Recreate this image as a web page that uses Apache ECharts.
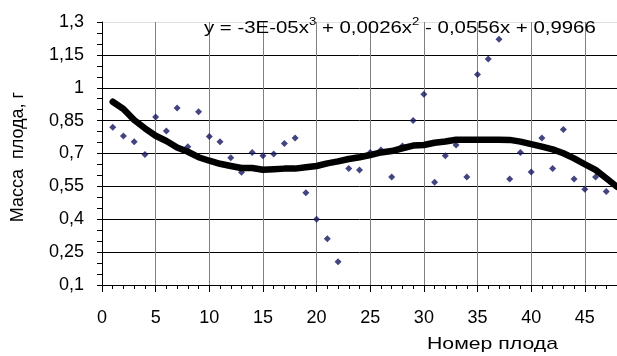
<!DOCTYPE html>
<html>
<head>
<meta charset="utf-8">
<script src="https://cdn.jsdelivr.net/npm/echarts@6/dist/echarts.min.js"></script>
<style>
  html, body { margin: 0; padding: 0; background: #fff; }
  #chart { width: 617px; height: 356px; }
</style>
</head>
<body>
<div id="chart"></div>
<script>
// fruit number -> mass (g)
var fruitNo = [1, 2, 3, 4, 5, 6, 7, 8, 9, 10, 11, 12, 13, 14, 15, 16, 17, 18, 19, 20, 21, 22, 23, 24,
  25, 26, 27, 28, 29, 30, 31, 32, 33, 34, 35, 36, 37, 38, 39, 40, 41, 42, 43, 44, 45, 46, 47];
var mass = [0.820, 0.780, 0.754, 0.696, 0.866, 0.803, 0.908, 0.731, 0.891, 0.778, 0.754, 0.681,
  0.614, 0.705, 0.690, 0.698, 0.746, 0.771, 0.521, 0.400, 0.311, 0.206, 0.632, 0.625, 0.705,
  0.716, 0.593, 0.734, 0.851, 0.970, 0.569, 0.690, 0.739, 0.593, 1.060, 1.131, 1.221, 0.584,
  0.704, 0.616, 0.771, 0.632, 0.810, 0.584, 0.537, 0.593, 0.527];

// trend line as drawn
var trendX = [1, 2, 3, 4, 5, 6, 7, 8, 9, 10, 11, 12, 13, 14, 15, 16, 17, 18, 19, 20, 21, 22, 23, 24,
  25, 26, 27, 28, 29, 30, 31, 32, 33, 34, 35, 36, 37, 38, 39, 40, 41, 42, 43, 44, 45, 46, 47, 48];
var trendY = [0.936, 0.903, 0.853, 0.815, 0.781, 0.757, 0.727, 0.708, 0.683, 0.667, 0.653, 0.643,
  0.634, 0.634, 0.626, 0.628, 0.631, 0.631, 0.637, 0.643, 0.655, 0.664, 0.675, 0.683, 0.693,
  0.705, 0.711, 0.724, 0.736, 0.739, 0.749, 0.755, 0.763, 0.763, 0.763, 0.763, 0.763, 0.762,
  0.754, 0.743, 0.731, 0.719, 0.701, 0.678, 0.651, 0.625, 0.587, 0.548];

var yTicks = [0.1, 0.25, 0.4, 0.55, 0.7, 0.85, 1, 1.15, 1.3];
var xTicks = [0, 5, 10, 15, 20, 25, 30, 35, 40, 45];

var font = "Arial, 'Liberation Sans', sans-serif";
var fmt = function (v) { return String(+(+v).toFixed(2)).replace('.', ','); };

var chart = echarts.init(document.getElementById('chart'));
chart.setOption({
  animation: false,
  grid: { left: 102, right: 0, top: 22, bottom: 71 },
  xAxis: [
    {
      type: 'value', min: 0, max: 48,
      axisLine: { lineStyle: { color: '#000', width: 1 } },
      axisTick: { customValues: xTicks, length: 7, lineStyle: { color: '#000' } },
      axisLabel: { customValues: xTicks, margin: 24, color: '#000', fontSize: 18, fontFamily: font },
      splitLine: { show: true, lineStyle: { color: '#808080', width: 1 } }
    },
    {
      type: 'value', min: 0, max: 48, interval: 1, position: 'bottom',
      axisLine: { show: false },
      axisTick: { length: 4, lineStyle: { color: '#000' } },
      axisLabel: { show: false },
      splitLine: { show: false }
    }
  ],
  yAxis: [
    {
      type: 'value', min: 0.1, max: 1.3,
      axisLine: { show: true, lineStyle: { color: '#000', width: 1 } },
      axisTick: { show: true, customValues: yTicks, length: 5, lineStyle: { color: '#000' } },
      axisLabel: { customValues: yTicks, margin: 18, color: '#000', fontSize: 18, fontFamily: font, formatter: fmt },
      splitLine: {
        show: true,
        lineStyle: { color: ['#000', '#000', '#000', '#000', '#000', '#000', '#000', '#000', '#e0e0e0'], width: 1 }
      }
    },
    {
      type: 'value', min: 0.1, max: 1.3, interval: 0.05, position: 'left',
      axisLine: { show: false },
      axisTick: { show: true, length: 5, lineStyle: { color: '#000' } },
      axisLabel: { show: false },
      splitLine: { show: false }
    }
  ],
  graphic: [
    {
      type: 'text', x: 204, y: 16, scaleX: 1.2, z: 10,
      style: {
        text: '{a|y = -3E-05x}{s|3}{a| + 0,0026x}{s|2}{a| - 0,0556x + 0,9966}',
        rich: {
          a: { fontSize: 17, fontFamily: font, fill: '#000', lineHeight: 21, verticalAlign: 'bottom' },
          s: { fontSize: 11, fontFamily: font, fill: '#000', lineHeight: 21, verticalAlign: 'top' }
        }
      }
    },
    {
      type: 'text', x: 427, y: 336, scaleX: 1.25,
      style: { text: 'Номер плода', fontSize: 17, fontFamily: font, fill: '#000' }
    },
    {
      type: 'text', x: 18, y: 157, rotation: Math.PI / 2,
      style: { text: 'Масса  плода, г', fontSize: 18, fontFamily: font, fill: '#000', align: 'center', verticalAlign: 'middle' }
    }
  ],
  series: [
    {
      type: 'scatter',
      symbol: 'diamond',
      symbolSize: 7,
      itemStyle: { color: '#151560' },
      z: 2,
      data: fruitNo.map(function (x, i) { return [x, mass[i]]; })
    },
    {
      type: 'line',
      showSymbol: false,
      symbol: 'none',
      lineStyle: { color: '#000', width: 6.5, cap: 'round', join: 'round' },
      z: 3,
      data: trendX.map(function (x, i) { return [x, trendY[i]]; })
    }
  ]
});
</script>
</body>
</html>
